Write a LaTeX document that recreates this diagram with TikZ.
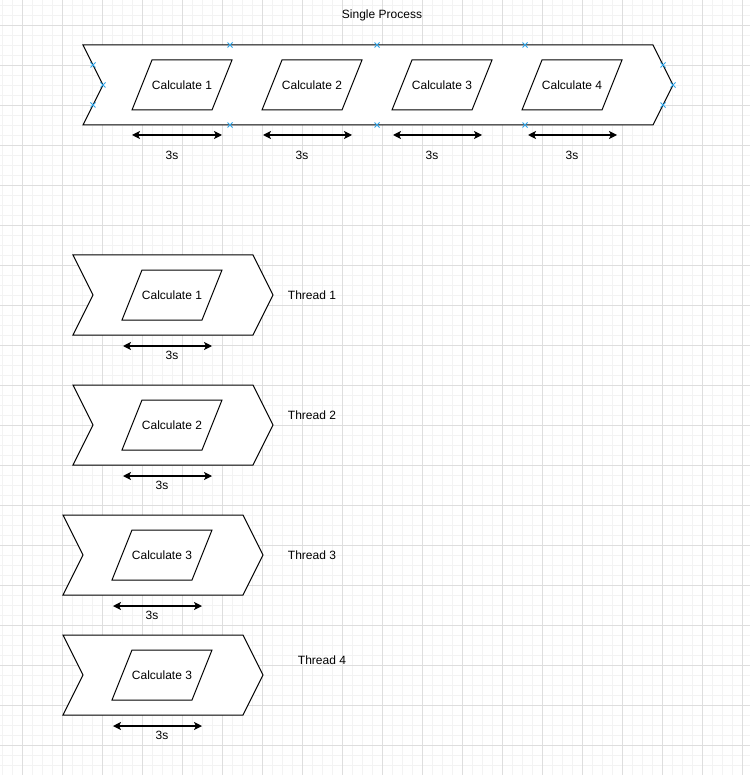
\documentclass[tikz,border=0pt]{standalone}
\usepackage{fontspec}
\setmainfont{Liberation Sans}
\usepackage{xcolor}
\usetikzlibrary{
    arrows.meta,
    positioning,
    calc
}
\definecolor{gridminor}{HTML}{F3F3F3}
\definecolor{gridmajor}{HTML}{DEDEDE}
\definecolor{handleblue}{HTML}{2FA4E7}
\tikzset{
    calctext/.style={inner sep=0pt, minimum width=60pt, minimum height=50pt},
    calcline/.style={draw=black, line width=1pt},
    chev/.style={draw=black, line width=1pt, fill=white},
    span/.style={line width=1.3pt, {Stealth[length=8pt,width=8pt,inset=2pt]}-{Stealth[length=8pt,width=8pt,inset=2pt]}},
    handle/.style={draw=handleblue, line width=0.9pt},
    lbl/.style={inner sep=0pt}
}
\newcommand{\calcshape}[1]{\draw[calcline] (#1) ++(-30,-25) -- ++(80,0) -- ++(-20,50) -- ++(-80,0) -- cycle;}

\begin{document}
\begin{tikzpicture}[x=1pt, y=-1pt, font=\fontsize{12pt}{14pt}\selectfont]
    \useasboundingbox (0,0) rectangle (750,775);
    % background grid
    \foreach \x in {2,12,...,742} \draw[gridminor, line width=0.6pt] (\x,0) -- (\x,775);
    \foreach \y in {5,15,...,775} \draw[gridminor, line width=0.6pt] (0,\y) -- (750,\y);
    \foreach \x in {22,62,...,742} \draw[gridmajor, line width=0.6pt] (\x,0) -- (\x,775);
    \foreach \y in {25,65,...,765} \draw[gridmajor, line width=0.6pt] (0,\y) -- (750,\y);

    % single process
    \node[lbl] (single) at (382,15) {Single Process};
    \draw[chev] (83,45) -- (653,45) -- (673,85) -- (653,125) -- (83,125) -- (103,85) -- cycle;
    \foreach \i/\x in {1/182, 2/312, 3/442, 4/572} {
        \node[calctext] (c\i) at (\x,85) {Calculate \i};
        \calcshape{c\i}
    }
    \foreach \i/\a/\b/\t in {1/132/222/172, 2/263/352/302, 3/393/482/432, 4/528/617/572} {
        \coordinate (s\i a) at (\a,135);
        \coordinate (s\i b) at (\b,135);
        \draw[span] (s\i a) -- (s\i b);
        \node[lbl] (t\i) at (\t,155) {3s};
    }
    \foreach \p in {(230,45), (377,45), (525,45), (230,125), (377,125), (525,125),
                    (93,65), (103,85), (93,105), (663,65), (673,85), (663,105)} {
        \draw[handle] \p +(-2.5,-2.5) -- +(2.5,2.5) +(-2.5,2.5) -- +(2.5,-2.5);
    }

    % threads
    \foreach \k/\dx/\dy/\n/\tx/\lx/\ly in {1/0/0/1/172/312/295, 2/0/130/2/162/312/415,
                                      3/-10/260/3/152/312/555, 4/-10/380/3/162/322/660} {
        \begin{scope}[shift={(\dx,\dy)}]
            \draw[chev] (73,255) -- (253,255) -- (273,295) -- (253,335) -- (73,335) -- (93,295) -- cycle;
            \node[calctext] (th\k) at (172,295) {Calculate \n};
            \calcshape{th\k}
            \coordinate (d\k a) at (123,346);
            \coordinate (d\k b) at (212,346);
            \draw[span] (d\k a) -- (d\k b);
        \end{scope}
        \node[lbl] (dt\k) at (\tx,355+\dy) {3s};
        \node[lbl] (thread\k) at (\lx,\ly) {Thread \k};
    }
\end{tikzpicture}
\end{document}
